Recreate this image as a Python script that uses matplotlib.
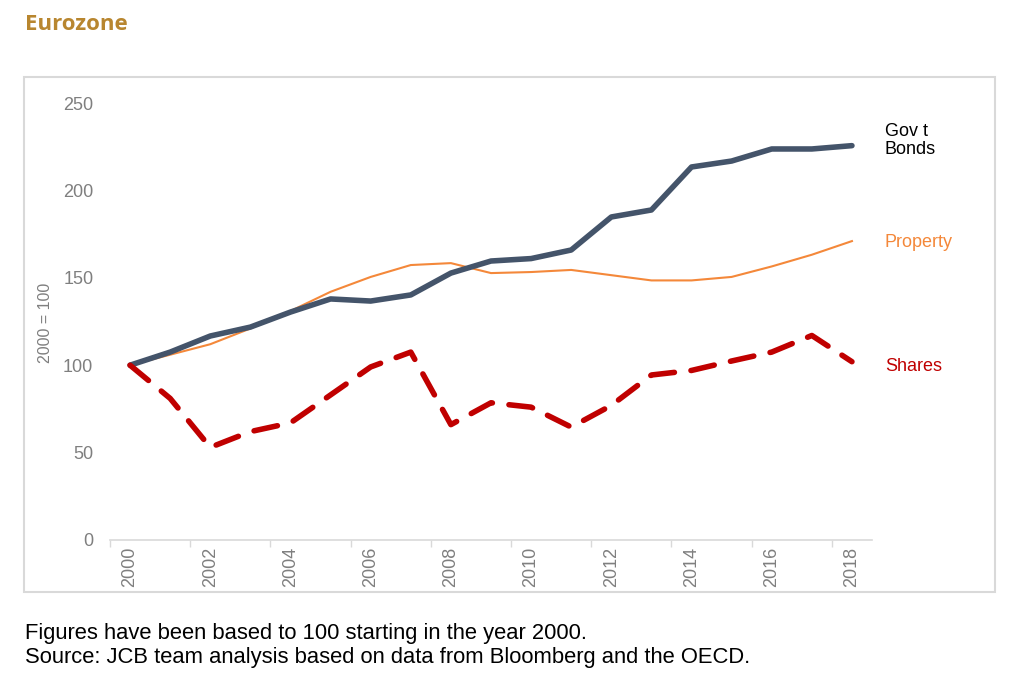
import numpy as np
import matplotlib
matplotlib.use("Agg")
import matplotlib.pyplot as plt
from matplotlib.patches import Rectangle

years = list(range(2000, 2019))
govt_bonds = [100, 107.5, 116.7, 121.8, 130.4, 137.9, 136.7, 140.2, 152.7, 159.6,
              161.0, 165.9, 184.8, 188.8, 213.4, 216.8, 223.7, 223.7, 225.6]
property_ = [100, 106, 112, 121, 131, 142, 150.5, 157.3, 158.4, 152.7,
             153.3, 154.5, 151.5, 148.5, 148.5, 150.5, 156.5, 163.2, 171.0]
shares = [100, 81, 53, 62, 67, 83, 99, 107.5, 66, 78.5,
          76, 64.6, 77, 94.4, 97, 102.4, 107.5, 117, 102]
series_labels = ["Gov t\nBonds", "Property", "Shares"]

c_govt = "#44546A"
c_prop = "#F4883A"
c_shares = "#C00000"
grey = "#7F7F7F"

plt.rcParams['font.family'] = ['Liberation Sans', 'DejaVu Sans']

fig = plt.figure(figsize=(10.24, 6.89), dpi=100)

# outer box round the chart
fig.patches.append(Rectangle((24/1024, 1-592/689), (995-24)/1024, (592-77)/689,
                             transform=fig.transFigure, fill=False,
                             edgecolor="#D9D9D9", linewidth=1.5))

ax = fig.add_axes([110/1024, 1-540/689, (872-110)/1024, (540-103)/689])

x = np.arange(len(years))
ax.plot(x, property_, color=c_prop, linewidth=1.5, zorder=2)
ax.plot(x, govt_bonds, color=c_govt, linewidth=4, solid_capstyle="round",
        solid_joinstyle="round", zorder=3)
ax.plot(x, shares, color=c_shares, linewidth=4, dashes=(4.3, 3.0),
        dash_capstyle="round", zorder=4)

ax.set_xlim(-0.5, len(years) - 0.5)
ax.set_ylim(0, 250)
ax.set_yticks(range(0, 251, 50))

# category axis: tick marks between every second category, labels on categories
ax.set_xticks(np.arange(-0.5, len(years) - 1, 2))
ax.set_xticklabels([])
ax.set_xticks(x[::2], minor=True)
ax.set_xticklabels([str(y) for y in years[::2]], minor=True, rotation=90,
                   color=grey, fontsize=13)
ax.tick_params(axis="x", which="major", length=5, color="#D9D9D9", width=1)
ax.tick_params(axis="x", which="minor", length=0, pad=5)
ax.tick_params(axis="y", length=0, labelcolor=grey, labelsize=13, pad=12)

for s in ["top", "right", "left"]:
    ax.spines[s].set_visible(False)
ax.spines["bottom"].set_color("#D9D9D9")
ax.spines["bottom"].set_linewidth(1.2)

ax.set_ylabel("2000 = 100", color=grey, fontsize=11.5)
ax.yaxis.set_label_coords(-0.075, 0.497)

# series labels at the right
ax.text(18.82, 228.5, series_labels[0], color="black", fontsize=13,
        va="center", ha="left", linespacing=1.05)
ax.text(18.82, property_[-1] - 1, series_labels[1], color=c_prop, fontsize=13,
        va="center", ha="left")
ax.text(18.82, shares[-1] - 3, series_labels[2], color=c_shares, fontsize=13,
        va="center", ha="left")

fig.text(25/1024, 1-25/689, "Eurozone", color="#B8862F", fontsize=16,
         fontweight="bold", family=["Open Sans", "DejaVu Sans"], va="center")

fig.text(25/1024, 1-633/689, "Figures have been based to 100 starting in the year 2000.",
         fontsize=15.8, va="center")
fig.text(25/1024, 1-657/689, "Source: JCB team analysis based on data from Bloomberg and the OECD.",
         fontsize=15.8, va="center")

fig.savefig("out.png", dpi=100)
